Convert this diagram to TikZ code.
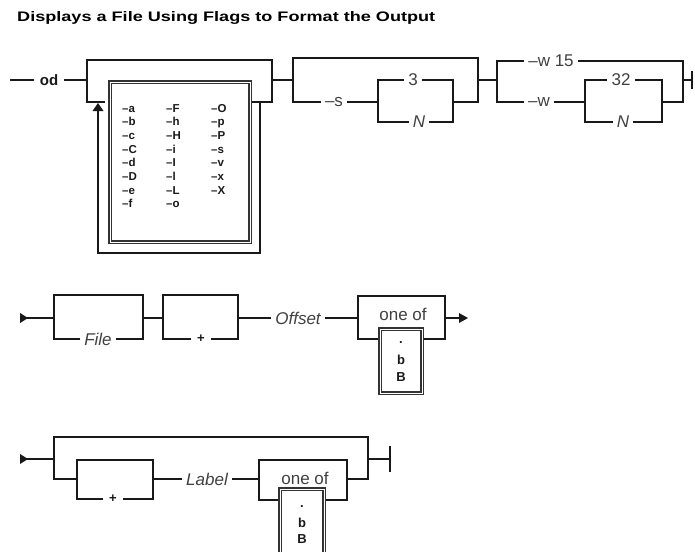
\documentclass[tikz,border=0pt]{standalone}
\usepackage{fontspec}
\setmainfont{Liberation Sans}
\usetikzlibrary{arrows.meta}
\begin{document}
\begin{tikzpicture}[x=1pt,y=-1pt,
  rail/.style={line width=1.7pt, line join=miter, line cap=rect, draw=black!90},
  dbl/.style={draw=black!80, double=white, double distance=0.9pt, line width=1.1pt},
  flag/.style={anchor=west, inner sep=0pt, text height=8.5pt, text depth=2.5pt, text=black!90, font=\bfseries\fontsize{11.5}{13}\selectfont},
  lbl/.style={inner sep=5pt, text=black!75, font=\fontsize{17}{19}\selectfont},
  ilbl/.style={lbl, font=\itshape\fontsize{17}{19}\selectfont},
  kw/.style={inner sep=6pt, text=black!90, font=\bfseries\fontsize{15}{17}\selectfont},
  sym/.style={inner sep=0pt, text=black!90, font=\bfseries\fontsize{13}{15}\selectfont}]
\useasboundingbox (0,0) rectangle (695,551);

% title
\node[anchor=base west, inner sep=0pt] (title) at (17,22)
  {\resizebox{418pt}{10pt}{\bfseries Displays a File Using Flags to Format the Output}};

% ---------------- row 1 ----------------
\node[kw] (od) at (49,80) {od};
\draw[rail] (11,80) -- (od.west);
\draw[rail] (od.east) -- (87,80);
\draw[rail] (87,102) -- (87,60) -- (272,60) -- (272,102) -- (250,102);
\draw[rail] (87,102) -- (104,102);
% loop back
\draw[rail] (260,102) -- (260,253) -- (98,253) -- (98,111);
\fill[black!90] (92.5,111) -- (98,103) -- (103.5,111) -- cycle;
% flag box
\node[dbl, minimum width=140pt, minimum height=160pt, inner sep=0pt] (flagbox) at (180,162) {};
\foreach \t [count=\i from 0] in {a,b,c,C,d,D,e,f}
  \node[flag] (fa\i) at (122,109+13.7*\i) {–\t};
\foreach \t [count=\i from 0] in {F,h,H,i,I,l,L,o}
  \node[flag] (fb\i) at (166,109+13.7*\i) {–\t};
\foreach \t [count=\i from 0] in {O,p,P,s,v,x,X}
  \node[flag] (fc\i) at (211,109+13.7*\i) {–\t};
\draw[rail] (272,80) -- (293,80);

% -s bracket
\draw[rail] (293,102) -- (293,58) -- (478,58) -- (478,102);
\node[lbl] (s) at (334,102) {–s};
\draw[rail] (293,102) -- (s.west);
\draw[rail] (s.east) -- (378,102);
\node[lbl] (n3) at (413,80) {3};
\node[ilbl] (N1) at (419,122) {N};
\draw[rail] (n3.west) -- (378,80) -- (378,122) -- (N1.west);
\draw[rail] (n3.east) -- (453,80) -- (453,122) -- (N1.east);
\draw[rail] (453,102) -- (478,102);
\draw[rail] (478,80) -- (497,80);

% -w bracket
\node[lbl] (w15) at (551,61) {–w 15};
\draw[rail] (w15.west) -- (497,61) -- (497,102);
\node[lbl] (w) at (539,102) {–w};
\draw[rail] (497,102) -- (w.west);
\draw[rail] (w15.east) -- (683,61) -- (683,102) -- (662,102);
\draw[rail] (w.east) -- (585,102);
\node[lbl] (n32) at (621,80) {32};
\node[ilbl] (N2) at (623,122) {N};
\draw[rail] (n32.west) -- (585,80) -- (585,122) -- (N2.west);
\draw[rail] (n32.east) -- (662,80) -- (662,122) -- (N2.east);
\coordinate (end1) at (692,80);
\draw[rail] (683,80) -- (end1);
\draw[rail] (692,72) -- (692,88);

% ---------------- row 2 ----------------
\fill[black!90] (20,313) -- (28,318) -- (20,323) -- cycle;
\draw[rail] (28,318) -- (54,318);
\node[ilbl] (file) at (98,339) {File};
\draw[rail] (file.west) -- (54,339) -- (54,295) -- (143,295) -- (143,339) -- (file.east);
\draw[rail] (143,318) -- (163,318);
\node[sym, inner sep=7pt] (plus1) at (201,339) {+};
\draw[rail] (plus1.west) -- (163,339) -- (163,295) -- (238,295) -- (238,339) -- (plus1.east);
\node[ilbl] (offset) at (298,318) {Offset};
\draw[rail] (238,318) -- (offset.west);
\draw[rail] (offset.east) -- (358,318);
\node[lbl, inner sep=0pt] (oneof1) at (403,314) {one of};
\draw[rail] (380,339) -- (358,339) -- (358,296) -- (445,296) -- (445,339) -- (422,339);
\node[dbl, minimum width=42pt, minimum height=64pt, inner sep=0pt] (bbox1) at (401,361) {};
\node[sym] (dot1) at (401,343) {.};
\node[sym] (b1) at (401,360) {b};
\node[sym] (B1) at (401,377) {B};
\coordinate (out2) at (468,318);
\draw[rail] (445,318) -- (459,318);
\fill[black!90] (459,313) -- (out2) -- (459,323) -- cycle;

% ---------------- row 3 ----------------
\fill[black!90] (20,454) -- (28,459) -- (20,464) -- cycle;
\draw[rail] (28,459) -- (54,459);
\draw[rail] (77,479) -- (54,479) -- (54,437) -- (368,437) -- (368,479) -- (347,479);
\node[sym, inner sep=7pt] (plus2) at (113,499) {+};
\draw[rail] (plus2.west) -- (77,499) -- (77,460) -- (153,460) -- (153,499) -- (plus2.east);
\node[ilbl] (label) at (207,479) {Label};
\draw[rail] (153,479) -- (label.west);
\draw[rail] (label.east) -- (259,479);
\node[lbl, inner sep=0pt] (oneof2) at (305,478) {one of};
\draw[rail] (280,500) -- (259,500) -- (259,460) -- (347,460) -- (347,500) -- (324,500);
\draw[dbl] (280,560) -- (280,489) -- (324,489) -- (324,560);
\node[sym] (dot2) at (302,507) {.};
\node[sym] (b2) at (302,523) {b};
\node[sym] (B2) at (302,539) {B};
\draw[rail] (368,459) -- (390,459);
\draw[rail] (390,447) -- (390,471);
\end{tikzpicture}
\end{document}
